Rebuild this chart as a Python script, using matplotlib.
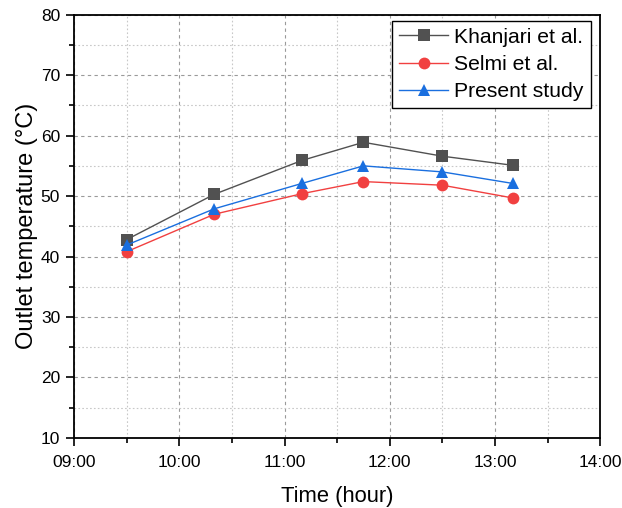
import matplotlib.pyplot as plt
from matplotlib.ticker import FuncFormatter, MultipleLocator

plt.rcParams["font.family"] = ["Liberation Sans", "DejaVu Sans"]

# Clock times of the measurements and outlet temperatures (°C)
times = ["09:30", "10:20", "11:10", "11:45", "12:30", "13:10"]
khanjari = [42.8, 50.3, 55.9, 58.9, 56.6, 55.1]
selmi = [40.8, 47.0, 50.4, 52.4, 51.8, 49.7]
present = [41.9, 47.9, 52.1, 55.0, 54.0, 52.1]

series = [
    ("Khanjari et al.", khanjari, "#515151", "s", 8),
    ("Selmi et al.", selmi, "#F14040", "o", 8.5),
    ("Present study", present, "#1A6FDF", "^", 9),
]


def to_hours(t):
    h, m = t.split(":")
    return int(h) + int(m) / 60


def hhmm(value, _pos):
    h = int(value)
    m = int(round((value - h) * 60))
    return f"{h:02d}:{m:02d}"


x = [to_hours(t) for t in times]

fig = plt.figure(figsize=(6.22, 5.08), dpi=100)
ax = fig.add_axes([0.119, 0.138, 0.846, 0.833])

for label, vals, color, marker, ms in series:
    ax.plot(x, vals, color=color, linewidth=1, marker=marker, markersize=ms,
            markeredgewidth=0, label=label, zorder=3)

ax.set_xlim(9, 14)
ax.set_ylim(10, 80)
ax.xaxis.set_major_locator(MultipleLocator(1))
ax.xaxis.set_minor_locator(MultipleLocator(0.5))
ax.yaxis.set_major_locator(MultipleLocator(10))
ax.yaxis.set_minor_locator(MultipleLocator(5))
ax.xaxis.set_major_formatter(FuncFormatter(hhmm))

ax.grid(which="major", color="#9a9a9a", linestyle=(0, (3, 3)), linewidth=0.8)
ax.grid(which="minor", color="#c8c8c8", linestyle=(0, (1.5, 2)), linewidth=0.8)
ax.set_axisbelow(True)

ax.tick_params(which="major", direction="out", length=6, width=1.2,
               labelsize=12.5, pad=4, top=False, right=False)
ax.tick_params(axis="x", which="major", pad=6.5)
ax.tick_params(which="minor", direction="out", length=3.5, width=1.2,
               top=False, right=False)
for sp in ax.spines.values():
    sp.set_linewidth(1.3)

ax.set_xlabel("Time (hour)", fontsize=15.8, labelpad=11)
ax.set_ylabel("Outlet temperature (°C)", fontsize=17, labelpad=2)

leg = ax.legend(loc="upper right", bbox_to_anchor=(591 / 622, 1 - 20.5 / 508),
                bbox_transform=fig.transFigure, borderaxespad=0,
                fontsize=15.2, frameon=True, fancybox=False,
                edgecolor="black", framealpha=1,
                handlelength=2.3, handletextpad=0.3, borderpad=0.35,
                labelspacing=0.38)
leg.get_frame().set_linewidth(1.0)

fig.savefig("out.png", dpi=100)
